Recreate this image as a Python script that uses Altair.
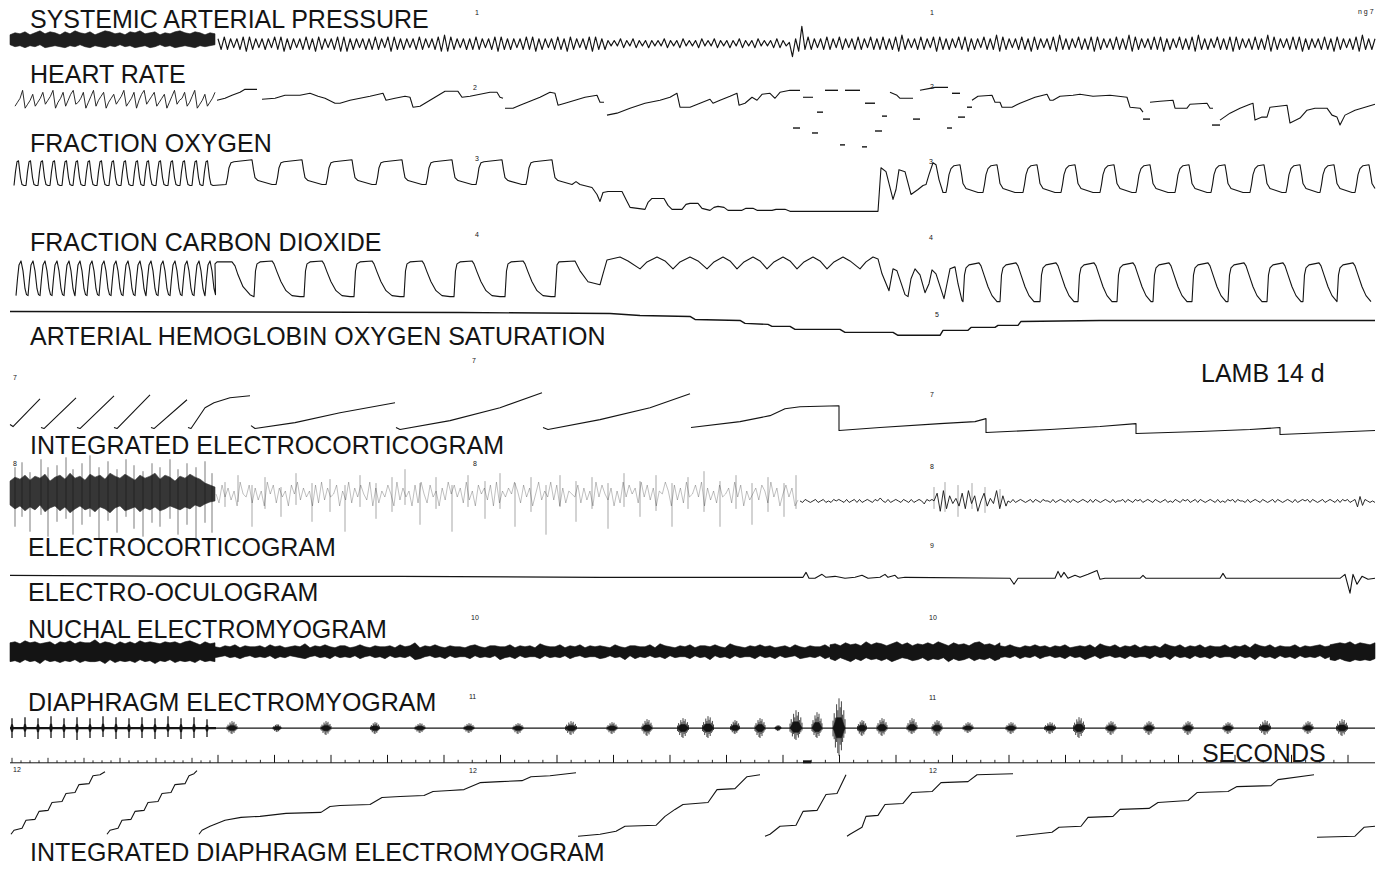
import altair as alt
import numpy as np
import pandas as pd

# ------------------------------------------------------------------
# Values (time = horizontal chart units,
# pen = vertical chart units, increasing downwards)
# ------------------------------------------------------------------

# 1 systemic arterial pressure: fast-paper envelope, then beat peaks/troughs
SAP_DENSE_TOP = [34, 32, 33, 31, 34, 32, 30, 33, 31, 32, 34, 31, 33, 30, 32, 33, 31, 34, 32, 30, 31,
                 33, 32, 34, 31, 32, 30, 33, 32, 31, 34, 32, 33, 31, 30, 32, 33, 31, 32, 34, 32, 33]
SAP_DENSE_BOT = [44, 46, 45, 47, 45, 46, 44, 47, 46, 45, 46, 47, 45, 46, 44, 46, 47, 45, 46, 47, 45,
                 46, 44, 46, 45, 47, 46, 45, 47, 46, 44, 46, 45, 47, 46, 45, 46, 47, 45, 46, 45, 44]
SAP_BEATS_A = ("a4b4a5a4b3b4a5a4 a5b4b3a4a5a4b4a3 b4a5a4b3b3a4a5a4 a4b4a5b3b4a4a5a4 "
               "b4a5a4b3c3b4a5a4 a4b4a5a4b3b4a4a5 a4b4b3a4a5a4b4a3 b4a5a4b3b4a4")
SAP_BEATS_B = ("9696a596a5969596 96a59695a69695a6 96a5969596a59695 a69695a596 80a3h4 "
               "b4a5a4b4a5b4a5a4 b4a5b4a4")
SAP_BEATS_C = ("b4a4b3c4a5a4b4a5 b3b4a4a5b4b3a4a5 b4a4c3b4a5a4b4a3 b4a5a4b3c4a4a5b4 "
               "a4b3b4a5a4b4a4c3 b4a5a4b4b3a4a5b4 a4b3c4a4a5b4a4b3 b4a5a4b4a4c3b4a5 "
               "a4b4b3a4a5a4b4a3 b4a5a4b3c4a4a")

# 2 heart rate
HR_FAST = "13590247135824690358147923580369146803572469135804792468135703692458136902471358"
HR_TRACE = [
    (217, 100), (225, 98), (232, 95), (240, 92), (245, 89), (257, 89), None,
    (262, 99), (275, 98), (285, 95), (300, 95), (310, 93), (318, 96), (325, 98), (335, 103),
    (340, 103), (350, 100), (360, 98), (370, 96), (383, 93), (386, 100), (395, 98), (405, 96),
    (410, 97), (413, 107), (420, 106), (430, 100), (440, 94), (445, 91), (458, 91), (462, 97),
    (470, 96), (480, 94), (490, 92), (497, 92), (500, 97), (503, 98), None,
    (505, 108), (513, 108), (520, 105), (530, 101), (540, 97), (550, 92), (555, 93), (558, 105),
    (565, 103), (575, 100), (585, 97), (597, 95), (600, 102), (604, 102), None,
    (607, 115), (617, 113), (630, 108), (645, 103), (660, 100), (670, 97), (677, 93), (680, 107),
    (690, 107), (700, 103), (710, 99), (713, 103), (720, 100), (730, 96), (737, 93), (739, 105),
    (745, 103), (752, 97), (757, 100), (762, 94), (770, 93), (775, 98), (780, 92), (790, 90),
    (800, 90), None,
    (803, 97), (813, 97), None,
    (890, 92), (897, 95), (900, 98), (913, 98), None,
    (920, 90), (930, 88), (935, 87), (948, 87), None,
    (972, 100), (978, 96), (992, 95), (995, 102), (1000, 102), (1002, 107), (1012, 107),
    (1020, 103), (1035, 97), (1047, 94), (1050, 100), (1053, 100), (1060, 96), (1073, 95),
    (1080, 94), (1093, 96), (1110, 95), (1127, 97), (1130, 107), (1140, 108), (1143, 112), None,
    (1150, 102), (1160, 101), (1173, 100), (1175, 108), (1187, 108), (1190, 104), (1207, 103),
    (1210, 108), (1213, 108), None,
    (1220, 120), (1230, 113), (1240, 108), (1250, 104), (1253, 103), (1255, 120), (1262, 117),
    (1267, 117), (1270, 107), (1287, 105), (1290, 123), (1300, 118), (1307, 110), (1315, 108),
    (1327, 108), (1332, 115), (1337, 117), (1340, 125), (1345, 115), (1355, 110), (1365, 107),
    (1375, 104)]
HR_DASH_START = [793, 812, 817, 825, 840, 845, 862, 865, 875, 882, 913, 947, 952, 958, 967, 1143, 1212]
HR_DASH_END = [800, 818, 823, 838, 845, 860, 867, 875, 882, 887, 920, 952, 960, 965, 972, 1150, 1220]
HR_DASH_PEN = [128, 133, 112, 90, 145, 90, 147, 103, 131, 116, 119, 128, 93, 117, 107, 119, 125]

# 3 fraction oxygen
FAST_BREATHS = [14, 26, 38, 50, 62, 73, 85, 97, 109, 121, 133, 144, 156, 168, 180, 192, 203]
FO2_FAST_SHAPE = [(0, 186), (1.5, 172), (3, 162), (4.5, 161), (6.5, 178), (8, 185), (10, 186)]
FO2_MID_BREATHS = [226, 276, 326, 376, 426, 476, 526]
FO2_MID_SHAPE = [(0, 185), (1.5, 178), (3, 168), (5, 163), (8, 162), (26, 160), (27.5, 170),
                 (29, 178), (32, 181), (46, 185)]
FO2_APNEA = [(576, 182), (580, 185), (592, 188), (597, 195), (600, 202), (603, 193), (608, 192),
             (622, 192), (626, 200), (630, 208), (645, 210), (648, 203), (652, 199), (664, 199),
             (668, 206), (672, 210), (682, 210), (686, 205), (690, 204), (698, 204), (702, 209),
             (710, 211), (714, 208), (718, 207), (724, 208), (728, 211), (742, 211), (746, 209),
             (753, 209), (757, 211), (772, 211), (776, 210), (785, 210), (790, 212), (878, 212),
             (881, 168), (886, 172), (893, 200), (896, 190), (899, 170), (905, 172), (911, 195),
             (918, 190), (923, 186), (926, 185), (929, 175), (933, 163), (936, 165), (939, 180),
             (943, 193)]
FO2_RIGHT_BREATHS = [946, 983, 1023, 1061, 1100, 1136, 1175, 1211, 1250, 1286, 1320, 1355]
FO2_SLOW_SHAPE = [(0, 193), (1.5, 185), (3, 175), (5, 169), (8, 166), (14, 165), (15.5, 174),
                  (17, 184), (20, 189), (32, 193)]

# 4 fraction carbon dioxide
FCO2_FAST_BREATHS = [16, 28, 40, 52, 64, 75, 87, 99, 111, 123, 135, 146, 158, 170, 182, 194, 205]
FCO2_FAST_SHAPE = [(0, 297), (1.5, 280), (3, 266), (5, 262), (7, 272), (9, 290), (10.5, 296)]
FCO2_BRIDGE = [(215, 265), (217, 263), (232, 263), (235, 267), (238, 276), (243, 288), (250, 296)]
FCO2_MID_BREATHS = [254, 304, 354, 404, 454, 505]
FCO2_MID_SHAPE = [(0, 298), (1.5, 272), (3, 265), (6, 263), (18, 262), (20, 265), (23, 273),
                  (27, 283), (32, 292), (38, 297), (46, 298)]
FCO2_APNEA = [(555, 298), (557, 266), (559, 263), (575, 262), (580, 272), (588, 283), (600, 286),
              (603, 275), (607, 261), (620, 258), (628, 262), (640, 270), (647, 263), (657, 258),
              (665, 262), (673, 270), (680, 263), (690, 258), (698, 262), (707, 270), (714, 263),
              (723, 258), (730, 262), (737, 270), (744, 263), (753, 258), (760, 262), (767, 270),
              (774, 263), (783, 258), (790, 262), (797, 270), (804, 263), (813, 258), (820, 262),
              (827, 270), (834, 263), (843, 258), (850, 262), (860, 270), (866, 263), (873, 258),
              (878, 260), (882, 275), (889, 292), (893, 270), (897, 272), (905, 296), (908, 298),
              (911, 280), (915, 270), (920, 276), (925, 294), (929, 285), (932, 271), (936, 275),
              (944, 300), (947, 285), (950, 270), (955, 268), (958, 285), (962, 302)]
FCO2_RIGHT_BREATHS = [963, 1000, 1040, 1078, 1117, 1153, 1192, 1228, 1267, 1303, 1337]
FCO2_SLOW_SHAPE = [(0, 303), (1.5, 276), (3, 269), (6, 266), (16, 264), (18, 267), (21, 276),
                   (25, 288), (29, 297), (34, 303)]

# 5 arterial hemoglobin oxygen saturation
SAO2 = [(10, 313), (460, 314), (610, 315), (640, 317), (690, 318), (695, 321), (740, 322), (745, 325),
        (768, 326), (772, 328), (790, 328), (795, 331), (840, 331), (845, 334), (893, 334), (898, 337),
        (940, 337), (943, 332), (968, 332), (971, 329), (995, 329), (998, 327), (1018, 327),
        (1021, 323), (1100, 322), (1375, 322)]

# 7 integrated electrocorticogram (resetting integrator)
IECOG = [(10, 427), (13, 429), (40, 401), None,
         (41, 430), (44, 431), (76, 400), None,
         (77, 430), (80, 431), (114, 398), None,
         (114, 430), (117, 431), (150, 397), None,
         (151, 430), (154, 431), (187, 402), None,
         (188, 430), (191, 431), (205, 410), (214, 405), (230, 400), (250, 398), None,
         (251, 428), (255, 431), (295, 425), (340, 415), (395, 405), None,
         (396, 430), (400, 432), (450, 423), (500, 410), (542, 395), None,
         (543, 430), (548, 432), (600, 422), (650, 410), (690, 396), None,
         (691, 430), (740, 424), (770, 418), (785, 411), (800, 409), (839, 408), (839, 433),
         (880, 430), (940, 426), (975, 424), (986, 421), (986, 435), (1050, 432), (1100, 429),
         (1136, 426), (1136, 436), (1200, 434), (1250, 432), (1280, 430), (1280, 437), (1375, 433)]

# 8 electrocorticogram
ECOG_CORE_TOP = [484, 480, 482, 478, 483, 479, 481, 477, 484, 480, 478, 482, 476, 481, 479, 483, 477,
                 480, 478, 482, 476, 479, 481, 477, 480, 483, 478, 481, 479, 476, 482, 478, 480, 484,
                 479, 481, 477, 480, 482, 486, 488, 490]
ECOG_CORE_BOT = [508, 512, 509, 514, 510, 513, 508, 515, 511, 509, 514, 510, 516, 512, 509, 513, 511,
                 515, 510, 512, 516, 511, 509, 514, 512, 510, 515, 511, 513, 510, 514, 512, 509, 511,
                 513, 510, 512, 508, 510, 507, 505, 504]
ECOG_MID = ("5284736195 4827361958 2746185937 4618293745 8163927485 3917264851 9374618295 "
            "2846173958 4729361857 3819264759 6284715936 4938172654 8273619485 3716294857 "
            "2948371659 6183729458 4917362845 7294816357 3862947158 4713")
ECOG_LOW_1 = "5465456456454656546456464565465754645654654645653656"
ECOG_BURST = "581927463829471583649273"
ECOG_LOW_2 = ("5464565456465465546456546465456546465456546455646546564565465456454654656456"
              "465456546454656465546456546545646545654645656465456456546465645618265454")
ECOG_SPIKE_T = [15, 22, 30, 41, 48, 57, 66, 73, 82, 90, 99, 108, 117, 126, 134, 143, 152, 160, 170,
                178, 187, 196, 205, 212, 225, 238, 252, 265, 281, 296, 312, 330, 345, 360, 376, 392,
                405, 420, 436, 452, 468, 485, 500, 515, 531, 546, 560, 576, 592, 608, 624, 640, 656,
                672, 688, 704, 720, 736, 752, 768, 784, 796, 934, 945, 958, 972, 985, 1000]
ECOG_SPIKE_TOP = [470, 465, 475, 462, 470, 468, 460, 472, 466, 458, 470, 464, 472, 462, 468, 474, 466,
                  470, 462, 472, 466, 470, 464, 476, 485, 478, 488, 480, 490, 476, 486, 482, 488, 478,
                  486, 480, 472, 486, 480, 488, 478, 484, 476, 486, 480, 488, 478, 484, 480, 486, 476,
                  484, 478, 486, 480, 474, 484, 478, 486, 480, 486, 478, 490, 485, 488, 486, 490, 492]
ECOG_SPIKE_BOT = [530, 520, 535, 518, 540, 525, 522, 538, 528, 520, 542, 524, 536, 520, 532, 540, 526,
                  530, 522, 538, 528, 544, 526, 536, 510, 505, 530, 512, 520, 508, 525, 515, 535, 510,
                  522, 515, 508, 528, 512, 535, 510, 522, 512, 530, 515, 538, 510, 525, 512, 532, 510,
                  520, 514, 530, 512, 515, 530, 512, 528, 515, 520, 512, 512, 515, 520, 512, 516, 510]

# 9 electro-oculogram
EOG = [(10, 579), (200, 580), (400, 580), (600, 581), (800, 581), (803, 581), (806, 576), (809, 582),
       (815, 582), (822, 578), (826, 581), (835, 580), (845, 582), (855, 581), (862, 579), (868, 582),
       (880, 581), (885, 578), (888, 581), (895, 579), (898, 582), (905, 581), (1010, 582),
       (1014, 588), (1018, 582), (1055, 582), (1058, 575), (1061, 581), (1064, 576), (1068, 582),
       (1075, 579), (1080, 581), (1088, 578), (1097, 574), (1100, 583), (1105, 582), (1140, 582),
       (1143, 579), (1146, 582), (1220, 582), (1223, 577), (1226, 582), (1340, 582), (1345, 578),
       (1350, 597), (1353, 578), (1357, 588), (1362, 580), (1368, 583), (1375, 582)]

# 10 nuchal electromyogram: upper / lower excursion of the band, per segment
NUCHAL = [
    (10, 215, "9a8b9a89a7a9b8a99c8a97a8a8b9a98a9a8ab97a89",
              "a9b8a9c8a9b9a8b9aa9c8b9a9b8a9c9a8b9a9b8a9a"),
    (215, 830, "5465746556475645658465754664575465564756946575465546754665574656486557465746565475"
               "466557486546574665754865465756456475465574",
               "6546575465647564567546574656475465746564875465746557465648657465574656475465576465"
               "847564657465574658465746557465746547656475"),
    (830, 1000, "7869786a79868a7968797a8697869a7869", "7968a7968797a8679869786a7986978697"),
    (1000, 1330, "6575465756465745657486574657465648657465746557465748657465574656756",
                 "6564756475465746586475465746557465846574657465574658465746574656475"),
    (1330, 1375, "7898a79879", "8979a89897"),
]

# 11 diaphragm electromyogram bursts: time, upward and downward excursion, duration
DIA_BURST_T = [12, 25, 38, 51, 64, 77, 90, 103, 116, 129, 142, 155, 168, 181, 194, 207,
               232, 277, 326, 375, 420, 469, 518, 571, 612, 647, 683, 708, 735, 760, 778, 796,
               817, 839, 862, 882, 912, 937, 968, 1011, 1050, 1079, 1111, 1149, 1188, 1228, 1265,
               1308, 1342]
DIA_BURST_UP = [10, 11, 10, 12, 10, 11, 10, 12, 11, 10, 11, 10, 12, 10, 11, 9,
                7, 4, 7, 6, 5, 5, 5, 7, 6, 9, 10, 12, 8, 10, 3, 18, 16, 30, 8, 10, 10, 8, 6, 6, 6,
                11, 7, 7, 7, 6, 8, 7, 9]
DIA_BURST_DOWN = [10, 9, 11, 10, 10, 12, 10, 9, 11, 10, 10, 11, 9, 11, 10, 9,
                  6, 4, 7, 6, 5, 5, 6, 7, 6, 8, 10, 10, 6, 10, 3, 12, 10, 28, 8, 8, 6, 8, 5, 6, 6,
                  10, 7, 7, 7, 6, 7, 6, 8]
DIA_BURST_DUR = [3] * 16 + [10, 8, 10, 9, 10, 10, 10, 11, 10, 10, 11, 11, 9, 10, 6, 12,
                            10, 12, 9, 10, 10, 10, 10, 10, 11, 11, 10, 10, 10, 10, 11, 10, 11]

# time marker (seconds)
SEC_FAST_TICKS = [12, 21, 30, 39, 48, 57, 66, 75, 84, 93, 102, 111, 120, 129, 138, 147, 156, 165,
                  174, 183, 192, 201, 210]
SEC_FAST_MAJOR = [12, 48, 84, 120, 156, 192]
SEC_MAJOR = [218, 274.5, 331, 387.5, 444, 500.5, 557, 613.5, 670, 726.5, 783, 839.5, 896, 952.5,
             1009, 1065.5, 1122, 1178.5, 1235, 1291.5, 1348]

# 12 integrated diaphragm electromyogram (resetting staircases)
IDIA = [(11, 840), (14, 836), (22, 834), (26, 826), (35, 825), (39, 817), (48, 816), (52, 808),
        (62, 807), (66, 799), (75, 798), (79, 790), (89, 789), (93, 781), (100, 780), (105, 777), None,
        (107, 840), (110, 836), (118, 834), (122, 826), (131, 825), (135, 817), (144, 816), (148, 808),
        (158, 807), (162, 799), (171, 798), (175, 790), (185, 789), (189, 781), (194, 779), (197, 776), None,
        (199, 840), (202, 836), (210, 832), (215, 830), (225, 826), (241, 823), (260, 822), (286, 819),
        (321, 818), (330, 812), (340, 811), (370, 810), (382, 803), (400, 802), (424, 801), (433, 797),
        (450, 796), (464, 795), (480, 788), (500, 787), (522, 786), (531, 782), (550, 781), (576, 778), None,
        (578, 842), (600, 840), (616, 837), (625, 832), (656, 831), (665, 822), (675, 815), (683, 810),
        (708, 808), (717, 795), (735, 794), (747, 782), (760, 780), None,
        (765, 842), (770, 840), (780, 832), (796, 831), (803, 817), (817, 816), (826, 800), (837, 799),
        (846, 780), None,
        (847, 842), (850, 840), (862, 833), (866, 822), (878, 821), (885, 810), (903, 809), (912, 798),
        (932, 797), (941, 788), (968, 787), (977, 780), (1013, 779), None,
        (1016, 842), (1052, 838), (1059, 833), (1081, 832), (1088, 823), (1113, 822), (1120, 815),
        (1149, 814), (1158, 808), (1188, 806), (1197, 798), (1228, 797), (1237, 792), (1271, 791),
        (1278, 785), (1314, 780), None,
        (1317, 843), (1355, 842), (1364, 833), (1375, 832)]

LABELS = ["SYSTEMIC ARTERIAL PRESSURE", "HEART RATE", "FRACTION OXYGEN", "FRACTION CARBON DIOXIDE",
          "ARTERIAL HEMOGLOBIN OXYGEN SATURATION", "LAMB 14 d", "INTEGRATED  ELECTROCORTICOGRAM",
          "ELECTROCORTICOGRAM", "ELECTRO-OCULOGRAM", "NUCHAL ELECTROMYOGRAM",
          "DIAPHRAGM ELECTROMYOGRAM", "SECONDS", "INTEGRATED DIAPHRAGM ELECTROMYOGRAM"]
CHANNEL_MARKS = ["1", "1", "2", "2", "3", "3", "4", "4", "5", "7", "7", "7", "8", "8", "8", "9",
                 "10", "10", "11", "11", "12", "12", "12", "n g 7"]

# ------------------------------------------------------------------
# layout and drawing style
# ------------------------------------------------------------------
LABEL_POS = [(30, 27), (30, 83), (30, 152), (30, 252), (30, 347), (1201, 384), (30, 457),
             (28, 559), (28, 605), (28, 642), (28, 716), (1202, 767), (30, 867)]
MARK_POS = [(475, 14), (930, 14), (473, 90), (930, 89), (475, 161), (929, 164), (475, 238),
            (929, 241), (935, 319), (13, 382), (472, 365), (930, 399), (13, 469), (473, 469),
            (930, 472), (930, 551), (471, 624), (929, 624), (469, 704), (929, 705), (13, 777),
            (469, 778), (929, 778), (1358, 13)]
INK = "#141414"
# hair pattern used to draw each EMG burst as a cluster of pen strokes
BURST_POS = [-0.5, -0.4, -0.3, -0.2, -0.1, 0.0, 0.1, 0.2, 0.3, 0.4, 0.5]
BURST_UP = [0.25, 0.5, 0.35, 0.8, 0.6, 1.0, 0.7, 0.9, 0.45, 0.6, 0.3]
BURST_DN = [0.3, 0.4, 0.7, 0.5, 0.9, 1.0, 0.6, 0.8, 0.5, 0.35, 0.2]

lines, areas, rules = [], [], []


def add_line(name, pts, w=1.1, o=1.0):
    seg = 0
    for k, p in enumerate(pts):
        if p is None:
            seg += 1
            continue
        if p[0] > 1377:
            continue
        lines.append(dict(key=f"{name}-{seg}", i=k, t=float(p[0]), y=float(p[1]), w=w, o=o))


def sampled(t0, t1, s, f):
    s = s.replace(" ", "")
    n = len(s)
    return [(t0 + (t1 - t0) * k / (n - 1), f(int(c, 36))) for k, c in enumerate(s)]


def breaths(onsets, shape):
    return [(o + dx, y) for o in onsets for dx, y in shape]


def add_rule(t, t2, y, y2, w=1.0, o=1.0):
    rules.append(dict(t=float(t), t2=float(t2), y=float(y), y2=float(y2), w=w, o=o))


# SAP
grid = np.linspace(10, 215, len(SAP_DENSE_TOP))
for t, a, b in zip(grid, SAP_DENSE_TOP, SAP_DENSE_BOT):
    areas.append(dict(key="sap", t=t, y=a, y2=b, o=0.95))
sap = lambda L: 56 - 1.8 * L
add_line("sap", sampled(218, 605, SAP_BEATS_A, sap) + sampled(608, 880, SAP_BEATS_B, sap)
         + sampled(883, 1375, SAP_BEATS_C, sap), w=1.15)

# HR
add_line("hrfast", sampled(15, 215, HR_FAST, lambda L: 108 - 2 * L), w=0.9)
add_line("hr", HR_TRACE, w=1.1)
for a, b, y in zip(HR_DASH_START, HR_DASH_END, HR_DASH_PEN):
    add_rule(a, b, y, y, 1.4)

# FO2 / FCO2
add_line("fo2", breaths(FAST_BREATHS, FO2_FAST_SHAPE) + breaths(FO2_MID_BREATHS, FO2_MID_SHAPE)
         + FO2_APNEA + breaths(FO2_RIGHT_BREATHS, FO2_SLOW_SHAPE), w=1.1)
add_line("fco2", breaths(FCO2_FAST_BREATHS, FCO2_FAST_SHAPE) + FCO2_BRIDGE
         + breaths(FCO2_MID_BREATHS, FCO2_MID_SHAPE) + FCO2_APNEA
         + breaths(FCO2_RIGHT_BREATHS, FCO2_SLOW_SHAPE), w=1.1)

# SaO2
add_line("sao2", SAO2, w=1.4)

# integrated ECoG
add_line("iecog", IECOG, w=1.1)

# ECoG
grid = np.linspace(10, 215, len(ECOG_CORE_TOP))
for t, a, b in zip(grid, ECOG_CORE_TOP, ECOG_CORE_BOT):
    areas.append(dict(key="ecog", t=t, y=a, y2=b, o=0.85))
add_line("ecogmid", sampled(216, 798, ECOG_MID, lambda L: 497 - 3 * (L - 5)), w=0.6, o=0.45)
low = lambda L: 504 - 1.5 * (L - 5)
add_line("ecoglow", sampled(800, 932, ECOG_LOW_1, low)
         + sampled(934, 1006, ECOG_BURST, lambda L: 504 - 2.6 * (L - 5))
         + sampled(1008, 1375, ECOG_LOW_2, low), w=0.9)
for t, a, b in zip(ECOG_SPIKE_T, ECOG_SPIKE_TOP, ECOG_SPIKE_BOT):
    add_rule(t, t, a, b, 0.7, 0.8 if t < 216 else 0.55)

# EOG
add_line("eog", EOG, w=1.1)

# nuchal EMG
for t0, t1, up, dn in NUCHAL:
    n = min(len(up), len(dn))
    for k in range(n):
        t = t0 + (t1 - t0) * k / (n - 1)
        areas.append(dict(key="nuchal", t=t, y=656 - int(up[k], 36), y2=656 + int(dn[k], 36), o=1.0))

# diaphragm EMG
add_line("dia_base_fast", [(10, 733), (216, 733)], w=2.2)
add_line("dia_base", [(216, 733), (1375, 733)], w=1.3)
for b, (c, u, d, w) in enumerate(zip(DIA_BURST_T, DIA_BURST_UP, DIA_BURST_DOWN, DIA_BURST_DUR)):
    for fx, fu, fd in [(-0.5, 0, 0), (-0.2, 0.35, 0.35), (0.2, 0.35, 0.35), (0.5, 0, 0)]:
        areas.append(dict(key=f"dia{b}", t=c + fx * w, y=733 - fu * u, y2=733 + fd * d, o=1.0))
    if w <= 3:
        add_rule(c, c, 733 - u, 733 + d, 1.3)
    else:
        for fx, fu, fd in zip(BURST_POS, BURST_UP, BURST_DN):
            add_rule(c + fx * w, c + fx * w, 733 - fu * u, 733 + fd * d, 0.8)

# time marker
add_line("sec", [(10, 768), (1375, 768)], w=1.0)
for t in SEC_FAST_TICKS:
    add_rule(t, t, 768 - (5 if t in SEC_FAST_MAJOR else 2.5), 768, 0.9)
for a, b in zip(SEC_MAJOR[:-1], SEC_MAJOR[1:]):
    add_rule(a, a, 760, 768, 1.0)
    for q in (0.25, 0.5, 0.75):
        add_rule(a + q * (b - a), a + q * (b - a), 765, 768, 0.9)
add_rule(SEC_MAJOR[-1], SEC_MAJOR[-1], 760, 768, 1.0)
add_rule(803, 811, 767, 767, 3.0)

# integrated diaphragm EMG
add_line("idia", IDIA, w=1.1)

lines_df = pd.DataFrame(lines)
areas_df = pd.DataFrame(areas)
rules_df = pd.DataFrame(rules)
text_df = pd.DataFrame(
    [dict(text=s, t=p[0], y=p[1], size=25) for s, p in zip(LABELS, LABEL_POS)]
    + [dict(text=s, t=p[0], y=p[1], size=7) for s, p in zip(CHANNEL_MARKS, MARK_POS)])

xs = alt.Scale(domain=[8, 1380], nice=False, zero=False)
ys = alt.Scale(domain=[8, 866], nice=False, zero=False, reverse=True)
X = alt.X("t:Q", scale=xs, axis=None)
Y = alt.Y("y:Q", scale=ys, axis=None)

line_layer = alt.Chart(lines_df).mark_line(color=INK, clip=True, strokeJoin="round").encode(
    x=X, y=Y, detail="key:N", order="i:Q",
    strokeWidth=alt.StrokeWidth("w:Q", scale=None),
    opacity=alt.Opacity("o:Q", scale=None))
area_layer = alt.Chart(areas_df).mark_area(color=INK, clip=True, strokeWidth=0.6, stroke=INK).encode(
    x=X, y=Y, y2="y2:Q", detail="key:N", opacity=alt.Opacity("o:Q", scale=None))
rule_layer = alt.Chart(rules_df).mark_rule(color=INK, clip=True).encode(
    x=X, x2="t2:Q", y=Y, y2="y2:Q", strokeWidth=alt.StrokeWidth("w:Q", scale=None),
    opacity=alt.Opacity("o:Q", scale=None))
text_layer = alt.Chart(text_df).mark_text(align="left", baseline="alphabetic",
                                          font="Liberation Sans", color=INK).encode(
    x=X, y=Y, text="text:N", size=alt.Size("size:Q", scale=None))

chart = alt.layer(area_layer, line_layer, rule_layer, text_layer).properties(
    width=1372, height=858, padding=0,
    autosize=alt.AutoSizeParams(type="fit", contains="padding"),
    background="white",
).configure_view(stroke=None)

chart.save("out.html", embed_options={"renderer": "svg", "actions": False})
